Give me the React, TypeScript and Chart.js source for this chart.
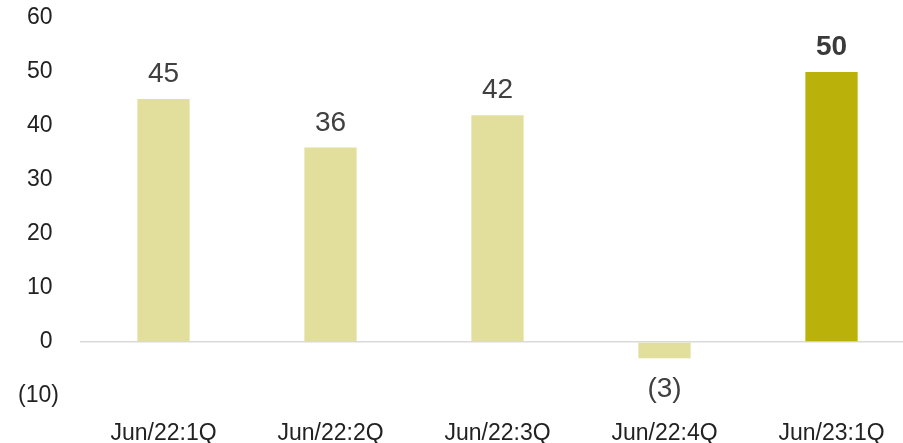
import React, { useEffect, useRef } from "react";
import { Chart, registerables } from "chart.js";

Chart.register(...registerables);

const categories = ["Jun/22:1Q", "Jun/22:2Q", "Jun/22:3Q", "Jun/22:4Q", "Jun/23:1Q"];
const values = [45, 36, 42, -3, 50];
const highlight = [false, false, false, false, true];
const yMin = -10;
const yMax = 60;
const yStep = 10;

const LIGHT = "#E2DF9C";
const DARK = "#BAB20B";
const FONT = '"Liberation Sans", Arial, sans-serif';

const fmt = (v: number) => (v < 0 ? `(${Math.abs(v)})` : `${v}`);

const CANVAS_W = 920;
const CANVAS_H = 470;

const labelPlugin = {
  id: "barLabels",
  afterDatasetsDraw(chart: any) {
    const ctx = chart.ctx;
    const meta = chart.getDatasetMeta(0);
    meta.data.forEach((bar: any, i: number) => {
      const v = values[i];
      ctx.save();
      ctx.font = `${highlight[i] ? "bold " : ""}28px ${FONT}`;
      ctx.fillStyle = highlight[i] ? "#3A3A3A" : "#404040";
      ctx.textAlign = "center";
      ctx.textBaseline = "alphabetic";
      if (v >= 0) {
        ctx.fillText(fmt(v), bar.x, bar.y - 17);
      } else {
        ctx.fillText(fmt(v), bar.x, bar.y + 39);
      }
      ctx.restore();
    });
  },
};

export default function App() {
  const ref = useRef<HTMLCanvasElement>(null);
  useEffect(() => {
    if (!ref.current) return;
    const chart = new Chart(ref.current, {
      type: "bar",
      data: {
        labels: categories,
        datasets: [
          {
            data: values,
            backgroundColor: values.map((_, i) => (highlight[i] ? DARK : LIGHT)),
            barPercentage: 0.313,
            categoryPercentage: 1,
            borderWidth: 0,
          },
        ],
      },
      options: {
        responsive: false,
        animation: false,
        maintainAspectRatio: false,
        layout: { padding: { top: 18, right: 5, left: 0, bottom: 0 } },
        plugins: { legend: { display: false }, tooltip: { enabled: false } },
        scales: {
          x: {
            grid: { display: false },
            border: { display: false },
            ticks: {
              color: "#222222",
              font: { family: FONT, size: 23 },
              padding: 16,
              maxRotation: 0,
              autoSkip: false,
            },
            afterFit: (s: any) => {
              s.height = CANVAS_H - 396;
              s.paddingLeft = 0;
              s.paddingRight = 0;
            },
          },
          y: {
            min: yMin,
            max: yMax,
            border: { display: false },
            grid: {
              drawTicks: false,
              color: (c: any) => (c.tick && c.tick.value === 0 ? "#D9D9D9" : "rgba(0,0,0,0)"),
              lineWidth: 1.5,
            },
            ticks: {
              stepSize: yStep,
              color: "#222222",
              font: { family: FONT, size: 23 },
              padding: 21,
              callback: (v: any) => (Number(v) < 0 ? `(${Math.abs(Number(v))})` : `${v} `),
            },
            afterFit: (s: any) => {
              s.width = 80;
              s.paddingTop = 0;
              s.paddingBottom = 0;
            },
          },
        },
      },
      plugins: [labelPlugin],
    });
    return () => chart.destroy();
  }, []);
  return (
    <div
      style={{
        position: "absolute",
        left: 0,
        top: 0,
        width: 903,
        height: 443,
        overflow: "hidden",
        background: "#fff",
      }}
    >
      <canvas ref={ref} width={CANVAS_W} height={CANVAS_H} style={{ width: CANVAS_W, height: CANVAS_H }} />
    </div>
  );
}
